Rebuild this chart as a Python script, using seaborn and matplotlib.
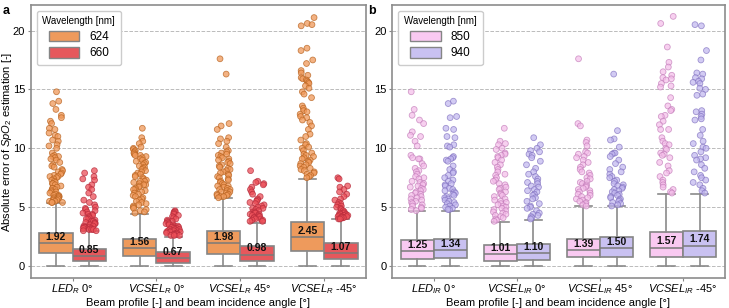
import numpy as np
import pandas as pd
import seaborn as sns
import matplotlib.pyplot as plt
from matplotlib.patches import Patch

np.random.seed(3)  # stripplot jitter only

# categories / labels
cats_a = ["LED_R 0", "VCSEL_R 0", "VCSEL_R 45", "VCSEL_R -45"]
ticks_a = [r"$LED_R$ 0°", r"$VCSEL_R$ 0°", r"$VCSEL_R$ 45°", r"$VCSEL_R$ -45°"]
cats_b = ["LED_IR 0", "VCSEL_IR 0", "VCSEL_IR 45", "VCSEL_IR -45"]
ticks_b = [r"$LED_{IR}$ 0°", r"$VCSEL_{IR}$ 0°", r"$VCSEL_{IR}$ 45°", r"$VCSEL_{IR}$ -45°"]
hues_a = ["624", "660"]
hues_b = ["850", "940"]

# box stats per wavelength, in category order: q1, median, q3, upper whisker (lower whisker = 0)
q1_624 = [1.10, 0.87, 1.04, 1.32]
med_624 = [1.92, 1.56, 1.98, 2.45]
q3_624 = [2.82, 2.29, 2.96, 3.75]
wh_624 = [5.34, 4.43, 5.76, 7.40]

q1_660 = [0.45, 0.28, 0.45, 0.59]
med_660 = [0.85, 0.67, 0.98, 1.07]
q3_660 = [1.49, 1.21, 1.72, 1.92]
wh_660 = [2.99, 2.51, 3.68, 3.98]

q1_850 = [0.59, 0.45, 0.73, 0.76]
med_850 = [1.25, 1.01, 1.39, 1.57]
q3_850 = [2.23, 1.75, 2.34, 2.93]
wh_850 = [4.69, 3.72, 5.08, 6.10]

q1_940 = [0.70, 0.51, 0.76, 0.79]
med_940 = [1.34, 1.10, 1.50, 1.74]
q3_940 = [2.31, 1.86, 2.46, 2.96]
wh_940 = [4.69, 3.90, 5.08, 6.10]

# outliers
out_624 = [
    [14.8, 14.0, 13.8, 13.3, 12.8, 12.6, 12.3, 12.1, 11.7, 11.6, 11.3, 11.1, 11.0, 10.7, 10.6, 10.3,
     10.2, 10.0, 9.6, 9.4, 9.3, 9.3, 9.2, 9.1, 9.0, 8.8, 8.6, 8.5, 8.4, 8.2, 8.1, 8.0, 7.9, 7.8, 7.7,
     7.6, 7.6, 7.5, 7.4, 7.3, 7.2, 7.1, 7.0, 7.0, 6.9, 6.8, 6.7, 6.6, 6.6, 6.5, 6.4, 6.3, 6.3, 6.2,
     6.1, 6.0, 6.0, 5.9, 5.9, 5.8, 5.8, 5.7, 5.7, 5.6, 5.6, 5.5, 5.5, 5.4, 5.4, 5.4],
    [11.7, 10.9, 10.6, 10.4, 10.1, 10.0, 9.9, 9.8, 9.7, 9.6, 9.5, 9.4, 9.4, 9.3, 9.2, 9.1, 9.0, 8.9,
     8.8, 8.7, 8.6, 8.5, 8.4, 8.3, 8.2, 8.1, 8.0, 7.9, 7.8, 7.7, 7.6, 7.5, 7.4, 7.3, 7.2, 7.2, 7.1,
     7.0, 6.9, 6.9, 6.8, 6.7, 6.6, 6.5, 6.5, 6.4, 6.3, 6.2, 6.1, 6.0, 5.9, 5.8, 5.7, 5.6, 5.5, 5.4,
     5.3, 5.2, 5.1, 5.0, 4.9, 4.8, 4.7, 4.6, 4.5],
    [17.6, 16.3, 12.1, 11.9, 11.6, 10.9, 10.8, 10.6, 10.4, 10.1, 9.8, 9.7, 9.6, 9.5, 9.4, 9.3, 9.2,
     9.1, 9.0, 8.9, 8.8, 8.7, 8.6, 8.5, 8.4, 8.3, 8.2, 8.1, 8.0, 7.9, 7.8, 7.7, 7.6, 7.5, 7.4, 7.3,
     7.2, 7.1, 7.0, 6.9, 6.8, 6.8, 6.7, 6.6, 6.5, 6.5, 6.4, 6.3, 6.3, 6.2, 6.1, 6.1, 6.0, 6.0, 5.9,
     5.9, 5.8],
    [21.1, 20.6, 20.5, 20.4, 18.5, 18.3, 17.5, 17.2, 16.6, 16.4, 16.2, 16.0, 15.9, 15.8, 15.7, 15.6,
     15.5, 15.3, 15.1, 14.8, 14.6, 14.3, 13.6, 13.4, 13.2, 13.1, 12.9, 12.7, 12.6, 12.4, 12.2, 11.9,
     11.6, 11.2, 11.0, 10.7, 10.4, 10.3, 10.1, 10.0, 9.8, 9.6, 9.5, 9.4, 9.3, 9.2, 9.1, 9.0, 8.9,
     8.8, 8.7, 8.6, 8.5, 8.4, 8.3, 8.2, 8.1, 8.0, 7.9, 7.8, 7.7, 7.6, 7.5],
]
out_660 = [
    [8.1, 7.9, 7.6, 7.4, 7.3, 6.9, 6.7, 6.5, 6.2, 5.9, 5.6, 5.4, 5.2, 5.0, 4.9, 4.8, 4.7, 4.6, 4.5,
     4.4, 4.4, 4.3, 4.2, 4.1, 4.0, 4.0, 3.9, 3.8, 3.8, 3.7, 3.7, 3.6, 3.6, 3.5, 3.5, 3.4, 3.4, 3.3,
     3.3, 3.3, 3.2, 3.2, 3.1, 3.1, 3.1, 3.0, 3.0],
    [4.7, 4.6, 4.6, 4.5, 4.4, 4.3, 4.2, 4.1, 4.0, 3.9, 3.8, 3.8, 3.7, 3.6, 3.6, 3.5, 3.5, 3.4, 3.4,
     3.3, 3.3, 3.3, 3.2, 3.2, 3.1, 3.1, 3.1, 3.0, 3.0, 3.0, 2.9, 2.9, 2.9, 2.8, 2.8, 2.8, 2.7, 2.7,
     2.7, 2.6, 2.6, 2.6],
    [8.1, 7.2, 7.1, 7.0, 6.9, 6.7, 6.5, 6.3, 6.1, 5.9, 5.7, 5.6, 5.5, 5.4, 5.3, 5.2, 5.1, 5.0, 4.9,
     4.9, 4.8, 4.7, 4.6, 4.6, 4.5, 4.5, 4.4, 4.4, 4.3, 4.3, 4.2, 4.2, 4.1, 4.1, 4.0, 4.0, 3.9, 3.9,
     3.8, 3.8],
    [7.5, 7.4, 6.8, 6.7, 6.5, 6.3, 6.1, 5.9, 5.7, 5.6, 5.4, 5.3, 5.2, 5.1, 5.0, 4.9, 4.8, 4.7, 4.6,
     4.5, 4.5, 4.4, 4.4, 4.3, 4.3, 4.3, 4.2, 4.2, 4.2, 4.1, 4.1, 4.1, 4.0, 4.0],
]
out_850 = [
    [14.8, 13.3, 12.8, 12.4, 12.1, 11.4, 11.1, 11.0, 10.6, 10.2, 9.4, 9.2, 9.1, 9.1, 8.7, 8.5, 8.3,
     8.1, 8.0, 7.8, 7.6, 7.5, 7.4, 7.2, 7.1, 7.0, 6.9, 6.8, 6.7, 6.6, 6.5, 6.4, 6.3, 6.2, 6.1, 6.0,
     5.9, 5.8, 5.7, 5.6, 5.5, 5.4, 5.3, 5.2, 5.1, 5.0, 4.9, 4.8, 4.7],
    [11.7, 10.6, 10.4, 10.3, 10.0, 9.9, 9.6, 9.5, 9.4, 9.3, 9.2, 9.0, 8.8, 8.6, 8.4, 8.2, 8.0, 7.8,
     7.7, 7.5, 7.3, 7.2, 7.0, 6.9, 6.7, 6.6, 6.5, 6.3, 6.2, 6.1, 6.0, 5.9, 5.7, 5.6, 5.5, 5.4, 5.3,
     5.2, 5.1, 5.0, 4.9, 4.8, 4.7, 4.6, 4.5, 4.4, 4.3, 4.2, 4.1, 4.0, 3.9, 3.8],
    [17.6, 12.1, 11.9, 10.7, 10.5, 10.2, 9.7, 9.6, 9.5, 9.3, 9.2, 9.0, 8.8, 8.6, 8.4, 8.2, 8.0, 7.9,
     7.7, 7.5, 7.4, 7.2, 7.1, 7.0, 6.9, 6.8, 6.7, 6.6, 6.5, 6.4, 6.3, 6.2, 6.1, 6.0, 5.9, 5.8, 5.7,
     5.6, 5.5, 5.4, 5.3, 5.2, 5.1],
    [21.2, 20.6, 18.6, 17.3, 16.9, 16.5, 16.2, 16.0, 15.9, 15.8, 15.5, 15.3, 15.2, 14.3, 13.6, 13.3,
     13.2, 12.8, 12.7, 12.3, 12.0, 11.6, 11.6, 10.9, 10.6, 10.4, 10.3, 10.0, 9.9, 9.6, 9.5, 9.4, 9.2,
     8.8, 8.5, 8.1, 7.9, 7.6, 7.3, 7.1, 6.9, 6.7, 6.5, 6.3, 6.2],
]
out_940 = [
    [14.0, 13.8, 12.7, 12.6, 11.7, 11.6, 11.0, 10.9, 10.3, 10.2, 10.1, 9.3, 9.2, 9.1, 9.0, 8.9, 8.5,
     8.2, 8.0, 7.9, 7.7, 7.5, 7.3, 7.2, 7.0, 6.9, 6.8, 6.6, 6.5, 6.4, 6.3, 6.2, 6.1, 6.0, 5.9, 5.8,
     5.7, 5.6, 5.5, 5.4, 5.3, 5.2, 5.1, 5.0, 4.9, 4.8, 4.8],
    [10.9, 10.3, 10.0, 9.8, 9.7, 9.5, 9.4, 9.2, 8.9, 8.6, 8.3, 8.0, 7.8, 7.6, 7.4, 7.2, 7.1, 7.0, 6.8,
     6.7, 6.5, 6.4, 6.3, 6.1, 6.0, 5.8, 5.7, 5.5, 5.3, 5.1, 5.0, 4.9, 4.7, 4.5, 4.4, 4.3, 4.2, 4.1,
     4.0],
    [16.3, 11.5, 10.8, 10.7, 10.1, 9.6, 9.6, 9.5, 9.3, 9.0, 8.7, 8.4, 8.2, 8.0, 7.8, 7.6, 7.5, 7.3,
     7.2, 7.0, 6.9, 6.8, 6.7, 6.6, 6.5, 6.4, 6.3, 6.2, 6.1, 6.0, 5.9, 5.8, 5.7, 5.6, 5.5, 5.4, 5.3,
     5.2, 5.1],
    [20.5, 20.4, 18.3, 17.5, 16.4, 16.3, 16.0, 15.9, 15.7, 15.6, 15.5, 15.1, 15.0, 14.6, 14.5, 13.2,
     13.1, 12.9, 12.7, 12.5, 12.4, 11.6, 11.1, 10.6, 10.4, 10.1, 10.0, 9.7, 9.4, 9.2, 9.1, 9.0, 8.6,
     8.3, 8.0, 7.7, 7.5, 7.3, 7.1, 6.9, 6.6, 6.4, 6.2],
]

box_cols = {"624": "#ee9a5c", "660": "#e6585c", "850": "#f9c9f1", "940": "#c9c1f1"}
pt_cols = {"624": "#f0995a", "660": "#ec4f58", "850": "#f4bde9", "940": "#c0b5ee"}
pt_edges = {"624": "#b8621e", "660": "#b52a3a", "850": "#c27ab8", "940": "#7f6fbf"}

plt.rcParams["font.family"] = ["Liberation Sans", "DejaVu Sans"]
plt.rcParams["mathtext.fontset"] = "custom"
plt.rcParams["mathtext.rm"] = "Liberation Sans"
plt.rcParams["mathtext.it"] = "Liberation Sans:italic"

fig = plt.figure(figsize=(7.29, 3.08), dpi=100)
ax_a = fig.add_axes([0.042, 0.096, 0.460, 0.889])
ax_b = fig.add_axes([0.538, 0.096, 0.456, 0.889])


def long_frame(cats, hues, outs):
    rows = []
    for h, groups in zip(hues, outs):
        for c, vals in zip(cats, groups):
            for v in vals:
                rows.append((c, h, v))
    return pd.DataFrame(rows, columns=["cat", "wl", "val"])


def panel(ax, cats, ticks, hues, stats, outs, alpha, show_ylabel):
    for k, (h, (q1, med, q3, wh)) in enumerate(zip(hues, stats)):
        bstats = []
        for i in range(len(cats)):
            bstats.append(dict(whislo=0.0, q1=q1[i], med=med[i], q3=q3[i], whishi=wh[i], fliers=[]))
        pos = [i - 0.2 + 0.4 * k for i in range(len(cats))]
        ax.bxp(bstats, positions=pos, widths=0.4, patch_artist=True, showfliers=False,
               capwidths=0.2, manage_ticks=False,
               boxprops=dict(facecolor=box_cols[h], edgecolor="#858585", linewidth=1.2),
               whiskerprops=dict(color="#8a8a8a", linewidth=1.2),
               capprops=dict(color="#8a8a8a", linewidth=1.2),
               medianprops=dict(color="#7a7a7a", linewidth=1.1), zorder=2)
        for p, m in zip(pos, med):
            ax.text(p, m + 0.1, f"{m:.2f}", ha="center", va="bottom", fontsize=7.5,
                    fontweight="bold", color="#111111", zorder=5)

    df = long_frame(cats, hues, outs)
    for h in hues:
        sub = df.copy()
        sub.loc[sub["wl"] != h, "val"] = np.nan
        sns.stripplot(data=sub, x="cat", y="val", hue="wl", order=cats, hue_order=hues,
                      dodge=True, jitter=0.17, size=4.2, palette={hh: pt_cols[h] for hh in hues},
                      edgecolor=pt_edges[h], linewidth=0.6, alpha=alpha, legend=False,
                      ax=ax, zorder=3)

    ax.set_xlim(-0.5, len(cats) - 0.5)
    ax.set_ylim(-1.05, 22.2)
    ax.set_yticks([0, 5, 10, 15, 20])
    ax.set_xticks(range(len(cats)))
    ax.set_xticklabels(ticks, fontsize=8)
    ax.tick_params(axis="y", labelsize=8, length=2.5, pad=1.5, color="#888888")
    ax.tick_params(axis="x", length=2, pad=0.5, color="#888888")
    ax.yaxis.grid(True, linestyle="--", color="#bbbbbb", linewidth=0.7)
    ax.set_axisbelow(True)
    for s in ax.spines.values():
        s.set_color("#8c8c8c")
        s.set_linewidth(1.2)
    ax.set_xlabel("Beam profile [-] and beam incidence angle [°]", fontsize=8)
    ax.xaxis.set_label_coords(0.5, -0.071)
    if show_ylabel:
        ax.set_ylabel(r"Absolute error of $SpO_2$ estimation [-]", fontsize=8)
        ax.yaxis.set_label_coords(-0.05, 0.5)
    else:
        ax.set_ylabel("")
    handles = [Patch(facecolor=box_cols[h], edgecolor="#858585", label=h) for h in hues]
    ax.legend(handles=handles, title="Wavelength [nm]", loc="upper left", fontsize=8.5,
              title_fontsize=7, handlelength=2.6, handleheight=1.0, borderpad=0.5,
              labelspacing=0.35, framealpha=1, edgecolor="#cccccc")


panel(ax_a, cats_a, ticks_a, hues_a,
      [(q1_624, med_624, q3_624, wh_624), (q1_660, med_660, q3_660, wh_660)],
      [out_624, out_660], 0.75, True)
panel(ax_b, cats_b, ticks_b, hues_b,
      [(q1_850, med_850, q3_850, wh_850), (q1_940, med_940, q3_940, wh_940)],
      [out_850, out_940], 0.7, False)

fig.text(0.004, 0.985, "a", fontsize=9, fontweight="bold", va="top")
fig.text(0.505, 0.985, "b", fontsize=9, fontweight="bold", va="top")

fig.savefig("out.png", dpi=100)
